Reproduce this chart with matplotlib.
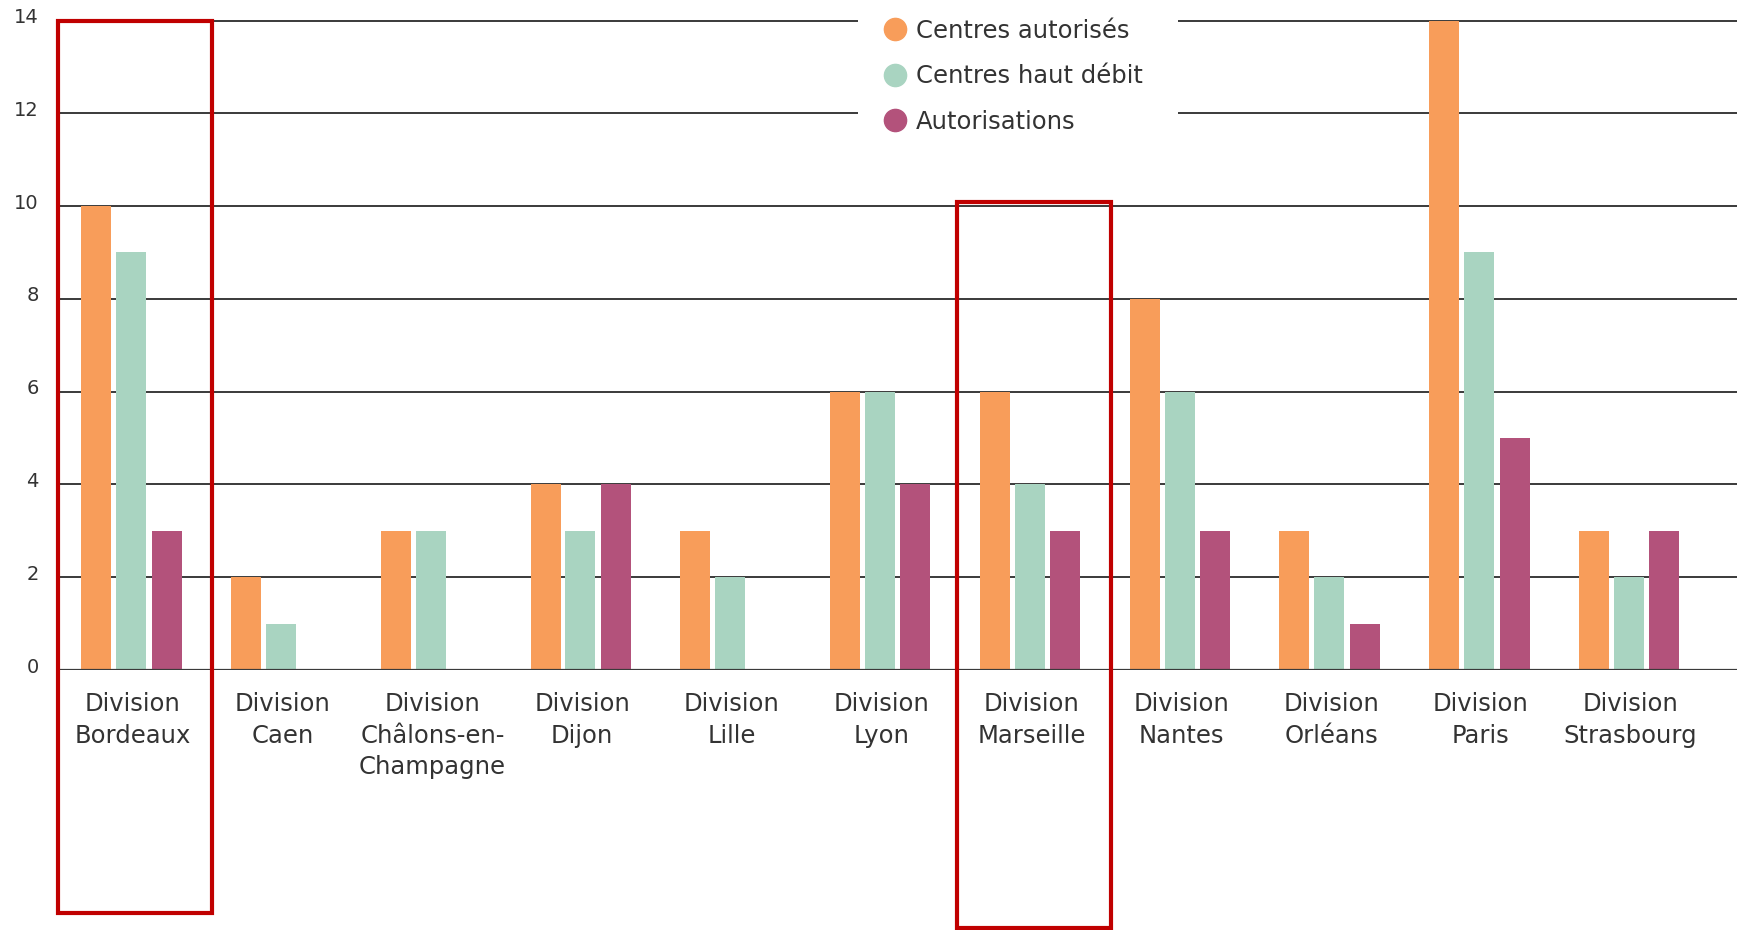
import matplotlib
matplotlib.use("Agg")
import matplotlib.pyplot as plt
import numpy as np
from matplotlib.patches import Rectangle
from matplotlib.lines import Line2D
import matplotlib.transforms as mtransforms

categories = ["Division\nBordeaux", "Division\nCaen", "Division\nChâlons-en-\nChampagne",
              "Division\nDijon", "Division\nLille", "Division\nLyon", "Division\nMarseille",
              "Division\nNantes", "Division\nOrléans", "Division\nParis", "Division\nStrasbourg"]
centres_autorises = [10, 2, 3, 4, 3, 6, 6, 8, 3, 14, 3]
centres_haut_debit = [9, 1, 3, 3, 2, 6, 4, 6, 2, 9, 2]
autorisations = [3, 0, 0, 4, 0, 4, 3, 3, 1, 5, 3]
series_names = ["Centres autorisés", "Centres haut débit", "Autorisations"]
yticks = [0, 2, 4, 6, 8, 10, 12, 14]
highlighted = [0, 6]

colors = ["#F89D5A", "#A9D4C1", "#B3527B"]
text_color = "#333333"
plt.rcParams['font.family'] = ['DejaVu Sans']

W, H = 1741, 930
fig = plt.figure(figsize=(W / 100, H / 100), dpi=100)
ax = fig.add_axes([58 / W, 1 - 670 / H, (1737 - 58) / W, (670 - 20.5) / H])

x = np.arange(len(categories))
offsets = [-0.245, -0.012, 0.225]
width = 0.2
for vals, off, c, name in zip([centres_autorises, centres_haut_debit, autorisations],
                              offsets, colors, series_names):
    ax.bar(x + off, vals, width=width, color=c, zorder=3, label=name)

ax.set_xlim(-0.5, 10.71)
ax.set_ylim(0, 14)
ax.set_yticks(yticks)
ax.set_yticklabels([str(t) for t in yticks])
ax.yaxis.grid(True, color="#3a3a3a", linewidth=1.4, zorder=0)
ax.set_axisbelow(True)
for s in ax.spines.values():
    s.set_visible(False)
ax.axhline(0, color="#3a3a3a", linewidth=1.6, zorder=4)
ax.tick_params(axis='y', length=0, pad=14, labelsize=14, labelcolor=text_color)
up = mtransforms.ScaledTranslation(0, 3 / 100, fig.dpi_scale_trans)
for lbl in ax.get_yticklabels():
    lbl.set_verticalalignment('center')
    lbl.set_transform(lbl.get_transform() + up)
ax.set_xticks(x)
ax.set_xticklabels(categories, fontsize=17.5, color=text_color, linespacing=1.42)
ax.tick_params(axis='x', length=0, pad=15.5)
for lbl in ax.get_xticklabels():
    lbl.set_verticalalignment('top')

# white area behind legend, interrupting the gridlines
fig.patches.append(Rectangle((858 / W, 1 - 140 / H), (1178 - 858) / W, 140 / H,
                             transform=fig.transFigure, facecolor="white",
                             edgecolor="none", zorder=5))
handles = [Line2D([], [], marker='o', linestyle='none', markersize=16,
                  markerfacecolor=c, markeredgecolor=c) for c in colors]
leg = fig.legend(handles, series_names, loc='upper left',
                 bbox_to_anchor=(872 / W, 1 - 9 / H), frameon=False,
                 fontsize=17.5, handletextpad=0.3, labelspacing=0.88,
                 handlelength=1.1, borderaxespad=0)
for t in leg.get_texts():
    t.set_color(text_color)
leg.set_zorder(6)

# red highlight boxes
trans = mtransforms.blended_transform_factory(ax.transData, fig.transFigure)
box_y = {0: (21, 913), 6: (202, 928)}
box_dx = {0: 0.0, 6: 0.0}
for i in highlighted:
    top, bot = box_y[i]
    r = Rectangle((i - 0.5 + box_dx[i], 1 - bot / H), 1.03, (bot - top) / H,
                  transform=trans, facecolor="none", edgecolor="#C00000",
                  linewidth=3, zorder=10, clip_on=False)
    fig.patches.append(r)

fig.savefig("out.png", dpi=100, facecolor="white")
